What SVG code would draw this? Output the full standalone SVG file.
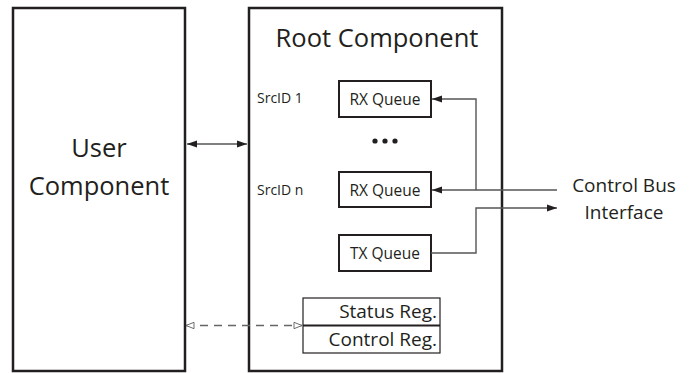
<svg xmlns="http://www.w3.org/2000/svg" width="693" height="373" viewBox="0 0 693 373">
<defs>
<style>
.box{fill:#fff;stroke:#231f20;stroke-width:2.5}
.qbox{fill:#fff;stroke:#231f20;stroke-width:2}
.rbox{fill:#fff;stroke:#231f20;stroke-width:1.2}
.t{font-family:"Open Sans","Liberation Sans",sans-serif;fill:#231f20}
.big{font-size:25.5px}
.sm{font-size:14px}
.q{font-size:15.5px}
.md{font-size:19px}
.ln{fill:none;stroke:#555;stroke-width:1.4}
.dash{fill:none;stroke:#666;stroke-width:1.4;stroke-dasharray:8,6}
</style>
<marker id="ah" viewBox="0 0 10 10" refX="10" refY="5" markerWidth="16" markerHeight="10" markerUnits="userSpaceOnUse" orient="auto-start-reverse">
<path d="M0,1.5 L10,5 L0,8.5 Z" fill="#231f20"/>
</marker>
<marker id="oh" viewBox="0 0 10 10" refX="10" refY="5" markerWidth="12" markerHeight="8" markerUnits="userSpaceOnUse" orient="auto-start-reverse">
<path d="M0,1 L10,5 L0,9 Z" fill="#fff" stroke="#666" stroke-width="1.2"/>
</marker>
</defs>
<rect width="693" height="373" fill="#fff"/>
<g id="user-component">
<rect class="box" x="13" y="8" width="172" height="363"/>
<text class="t big" x="99" y="157" text-anchor="middle">User</text>
<text class="t big" x="99" y="195" text-anchor="middle">Component</text>
</g>
<g id="root-component">
<rect class="box" x="249" y="8" width="253" height="363"/>
<text class="t big" x="377" y="47" text-anchor="middle">Root Component</text>
<text class="t sm" x="257" y="103">SrcID 1</text>
<text class="t sm" x="257" y="195">SrcID n</text>
<circle cx="375" cy="141" r="2.6" fill="#231f20"/>
<circle cx="385" cy="141" r="2.6" fill="#231f20"/>
<circle cx="395" cy="141" r="2.6" fill="#231f20"/>
</g>
<g id="rx-queue-1">
<rect class="qbox" x="339" y="81" width="92" height="36"/>
<text class="t q" x="385" y="105" text-anchor="middle">RX Queue</text>
</g>
<g id="rx-queue-n">
<rect class="qbox" x="339" y="172" width="92" height="35"/>
<text class="t q" x="385" y="196" text-anchor="middle">RX Queue</text>
</g>
<g id="tx-queue">
<rect class="qbox" x="339" y="235" width="92" height="36"/>
<text class="t q" x="385" y="259" text-anchor="middle">TX Queue</text>
</g>
<g id="registers">
<rect class="rbox" x="303" y="298" width="137" height="55"/>
<line x1="303" y1="325.5" x2="440" y2="325.5" stroke="#231f20" stroke-width="2"/>
<text class="t md" x="437" y="318" text-anchor="end">Status Reg.</text>
<text class="t md" x="437" y="346" text-anchor="end">Control Reg.</text>
</g>
<g id="control-bus-interface">
<text class="t md" x="624" y="192" text-anchor="middle">Control Bus</text>
<text class="t md" x="624" y="219" text-anchor="middle">Interface</text>
</g>
<g id="connectors">
<line class="ln" x1="187" y1="144" x2="247" y2="144" marker-start="url(#ah)" marker-end="url(#ah)"/>
<line class="ln" x1="557" y1="190" x2="432" y2="190" marker-end="url(#ah)"/>
<polyline class="ln" points="476,190 476,99 432,99" marker-end="url(#ah)"/>
<polyline class="ln" points="431,253 476,253 476,208 557,208" marker-end="url(#ah)"/>
<line class="dash" x1="186" y1="325.5" x2="302" y2="325.5" marker-start="url(#oh)" marker-end="url(#oh)"/>
</g>
</svg>
